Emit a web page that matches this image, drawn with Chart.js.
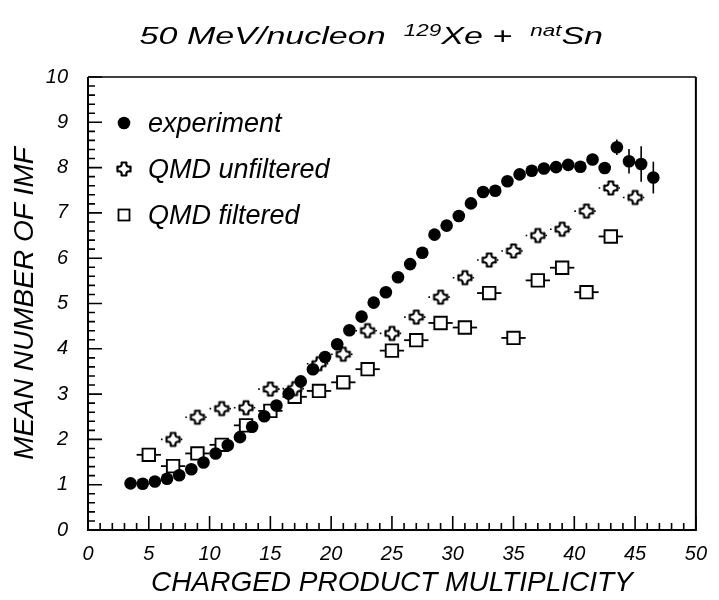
<!DOCTYPE html>
<html>
<head>
<meta charset="utf-8">
<script src="https://cdn.jsdelivr.net/npm/chart.js@4.4.1/dist/chart.umd.min.js"></script>
<style>
  html, body { margin: 0; padding: 0; background: #fff; }
  #wrap { position: relative; width: 719px; height: 600px; }
  #title {
    position: absolute; top: 16px; left: 12px; width: 719px; text-align: center;
    font: italic 24px "Liberation Sans", Arial, sans-serif; line-height: 30px; color: #000;
  }
  #title span { display: inline-block; transform-origin: 50% 50%; white-space: nowrap; }
  #title sup { font-size: 0.66em; vertical-align: 0.5em; margin-left: 6px; }
  canvas { position: absolute; left: 0; top: 0; }
</style>
</head>
<body>
<div id="wrap">
  <canvas id="chart" width="719" height="600"></canvas>
  <div id="title"><span id="titleText">50 MeV/nucleon <sup>129</sup>Xe + <sup>nat</sup>Sn</span></div>
</div>
<script>
// experiment (filled circles)
const expMult = [3.5, 4.5, 5.5, 6.5, 7.5, 8.5, 9.5, 10.5, 11.5, 12.5, 13.5, 14.5, 15.5, 16.5, 17.5,
  18.5, 19.5, 20.5, 21.5, 22.5, 23.5, 24.5, 25.5, 26.5, 27.5, 28.5, 29.5, 30.5, 31.5, 32.5,
  33.5, 34.5, 35.5, 36.5, 37.5, 38.5, 39.5, 40.5, 41.5, 42.5, 43.5, 44.5, 45.5, 46.5];
const expMean = [1.03, 1.02, 1.07, 1.13, 1.21, 1.34, 1.49, 1.69, 1.87, 2.05, 2.28, 2.51, 2.75, 3.01, 3.28,
  3.55, 3.82, 4.10, 4.41, 4.71, 5.02, 5.25, 5.58, 5.87, 6.12, 6.52, 6.72, 6.93, 7.21, 7.46,
  7.49, 7.70, 7.85, 7.93, 7.98, 8.01, 8.06, 8.02, 8.18, 7.99, 8.45, 8.14, 8.08, 7.78];
const expErr = [0, 0, 0, 0, 0, 0, 0, 0, 0, 0, 0, 0, 0, 0, 0,
  0, 0, 0, 0, 0, 0, 0, 0, 0, 0, 0, 0, 0, 0, 0,
  0, 0, 0, 0, 0, 0, 0, 0, 0, 0, 0.17, 0.27, 0.39, 0.35];

// QMD unfiltered (open crosses)
const unfMult = [7, 9, 11, 13, 15, 17, 19, 21, 23, 25, 27, 29, 31, 33, 35, 37, 39, 41, 43, 45];
const unfMean = [2.00, 2.49, 2.68, 2.70, 3.11, 3.12, 3.67, 3.88, 4.40, 4.34, 4.70, 5.14, 5.57, 5.96, 6.16, 6.50, 6.64, 7.04, 7.55, 7.34];

// QMD filtered (open squares)
const filMult = [5, 7, 9, 11, 13, 15, 17, 19, 21, 23, 25, 27, 29, 31, 33, 35, 37, 39, 41, 43];
const filMean = [1.66, 1.41, 1.69, 1.88, 2.31, 2.63, 2.94, 3.07, 3.26, 3.55, 3.96, 4.19, 4.57, 4.47, 5.23, 4.24, 5.51, 5.79, 5.25, 6.48];

// half width of the QMD multiplicity bins
const qmdBinHalf = 1;

const FONT = '"Liberation Sans", Arial, sans-serif';

// stretch title to the width it has in the scan
const tt = document.getElementById('titleText');
tt.style.transform = 'scaleX(' + (464 / tt.offsetWidth) + ')';

// open cross marker
function makeCross() {
  const c = document.createElement('canvas');
  c.width = 18; c.height = 18;
  const g = c.getContext('2d');
  g.translate(9, 9);
  const a = 6.5, w = 2.4;
  g.beginPath();
  g.moveTo(-w, -a);
  g.lineTo(w, -a);
  g.quadraticCurveTo(w * 0.6, -w * 0.6, a, -w);
  g.lineTo(a, w);
  g.quadraticCurveTo(w * 0.6, w * 0.6, w, a);
  g.lineTo(-w, a);
  g.quadraticCurveTo(-w * 0.6, w * 0.6, -a, w);
  g.lineTo(-a, -w);
  g.quadraticCurveTo(-w * 0.6, -w * 0.6, -w, -a);
  g.closePath();
  g.fillStyle = '#fff';
  g.fill();
  g.lineWidth = 2.2;
  g.lineJoin = 'round';
  g.strokeStyle = '#000';
  g.stroke();
  return c;
}
const crossImg = makeCross();

const toPoints = (xs, ys) => xs.map((x, i) => ({ x: x, y: ys[i] }));

const errorBars = {
  id: 'errorBars',
  beforeDatasetsDraw(chart) {
    const ctx = chart.ctx, xs = chart.scales.x, ys = chart.scales.y;
    ctx.save();
    ctx.strokeStyle = '#000';
    // experiment: vertical bars
    ctx.lineWidth = 1.6;
    expMult.forEach((m, i) => {
      if (!expErr[i]) return;
      const px = xs.getPixelForValue(m);
      ctx.beginPath();
      ctx.moveTo(px, ys.getPixelForValue(expMean[i] - expErr[i]));
      ctx.lineTo(px, ys.getPixelForValue(expMean[i] + expErr[i]));
      ctx.stroke();
    });
    // filtered: solid horizontal bars
    ctx.lineWidth = 1.8;
    filMult.forEach((m, i) => {
      const py = ys.getPixelForValue(filMean[i]);
      ctx.beginPath();
      ctx.moveTo(xs.getPixelForValue(m - qmdBinHalf), py);
      ctx.lineTo(xs.getPixelForValue(m + qmdBinHalf), py);
      ctx.stroke();
    });
    // unfiltered: dotted horizontal bars
    ctx.lineWidth = 1.6;
    ctx.setLineDash([1.6, 5]);
    unfMult.forEach((m, i) => {
      const py = ys.getPixelForValue(unfMean[i]);
      ctx.beginPath();
      ctx.moveTo(xs.getPixelForValue(m - qmdBinHalf), py);
      ctx.lineTo(xs.getPixelForValue(m + qmdBinHalf), py);
      ctx.stroke();
    });
    ctx.restore();
  }
};

const frameAndTicks = {
  id: 'frameAndTicks',
  afterDraw(chart) {
    const ctx = chart.ctx, a = chart.chartArea, xs = chart.scales.x, ys = chart.scales.y;
    ctx.save();
    ctx.strokeStyle = '#000';
    ctx.lineWidth = 2;
    ctx.beginPath();
    ctx.moveTo(a.left, a.top);
    ctx.lineTo(a.left, a.bottom);
    ctx.lineTo(a.right, a.bottom);
    ctx.lineTo(a.right, a.top);
    ctx.stroke();
    ctx.lineWidth = 1.3;
    ctx.beginPath();
    ctx.moveTo(a.left, a.top);
    ctx.lineTo(a.right, a.top);
    ctx.stroke();
    ctx.lineWidth = 1.6;
    ctx.beginPath();
    for (let v = xs.min; v <= xs.max; v += 1) {
      const px = xs.getPixelForValue(v);
      const len = v % 5 === 0 ? 14 : 7;
      ctx.moveTo(px, a.bottom);
      ctx.lineTo(px, a.bottom - len);
    }
    for (let k = 0; k <= 50; k++) {
      const v = ys.min + k * 0.2;
      const py = ys.getPixelForValue(v);
      const len = k % 5 === 0 ? 14 : 7;
      ctx.moveTo(a.left, py);
      ctx.lineTo(a.left + len, py);
    }
    ctx.stroke();
    ctx.restore();
  }
};

const insideLegend = {
  id: 'insideLegend',
  afterDatasetsDraw(chart) {
    const ctx = chart.ctx, a = chart.chartArea;
    ctx.save();
    ctx.font = 'italic 27px ' + FONT;
    ctx.textBaseline = 'middle';
    ctx.fillStyle = '#000';
    chart.data.datasets.forEach((ds, i) => {
      const mx = a.left + 36, my = a.top + 46 + i * 46;
      ctx.strokeStyle = '#000';
      if (ds.pointStyle === 'circle') {
        ctx.beginPath();
        ctx.arc(mx, my, ds.pointRadius, 0, Math.PI * 2);
        ctx.fillStyle = '#000';
        ctx.fill();
      } else if (ds.pointStyle === 'rect') {
        ctx.fillStyle = '#fff';
        ctx.lineWidth = 1.8;
        ctx.fillRect(mx - 5.5, my - 5.5, 11, 11);
        ctx.strokeRect(mx - 5.5, my - 5.5, 11, 11);
      } else {
        ctx.drawImage(ds.pointStyle, mx - 9, my - 9);
      }
      ctx.fillStyle = '#000';
      ctx.fillText(ds.label, a.left + 60, my + 1);
    });
    ctx.restore();
  }
};

new Chart(document.getElementById('chart'), {
  type: 'scatter',
  data: {
    datasets: [
      {
        label: 'experiment',
        data: toPoints(expMult, expMean),
        pointStyle: 'circle',
        pointRadius: 6.3,
        backgroundColor: '#000',
        borderColor: '#000',
        borderWidth: 0
      },
      {
        label: 'QMD unfiltered',
        data: toPoints(unfMult, unfMean),
        pointStyle: crossImg,
        pointRadius: 8
      },
      {
        label: 'QMD filtered',
        data: toPoints(filMult, filMean),
        pointStyle: 'rect',
        pointRadius: 8.8,
        backgroundColor: '#fff',
        borderColor: '#000',
        borderWidth: 1.9
      }
    ]
  },
  options: {
    responsive: false,
    animation: false,
    devicePixelRatio: 1,
    layout: { padding: { top: 77, right: 16, left: 0, bottom: 0 } },
    plugins: {
      legend: { display: false },
      tooltip: { enabled: false }
    },
    scales: {
      x: {
        type: 'linear',
        min: 0,
        max: 50,
        afterFit(s) { s.height = 70; },
        grid: { display: false, drawTicks: false },
        border: { display: false },
        ticks: {
          stepSize: 5,
          padding: 12,
          color: '#000',
          font: { family: FONT, size: 20, style: 'italic' }
        },
        title: {
          display: true,
          text: 'CHARGED PRODUCT MULTIPLICITY',
          color: '#000',
          padding: { top: 0, bottom: 0 },
          font: { family: FONT, size: 28, style: 'italic' }
        }
      },
      y: {
        type: 'linear',
        min: 0,
        max: 10,
        afterFit(s) { s.width = 88; },
        grid: { display: false, drawTicks: false },
        border: { display: false },
        ticks: {
          stepSize: 1,
          padding: 20,
          color: '#000',
          font: { family: FONT, size: 20, style: 'italic' }
        },
        title: {
          display: true,
          text: 'MEAN NUMBER OF IMF',
          color: '#000',
          padding: { top: 8, bottom: 0 },
          font: { family: FONT, size: 28, style: 'italic' }
        }
      }
    }
  },
  plugins: [errorBars, frameAndTicks, insideLegend]
});
</script>
</body>
</html>
